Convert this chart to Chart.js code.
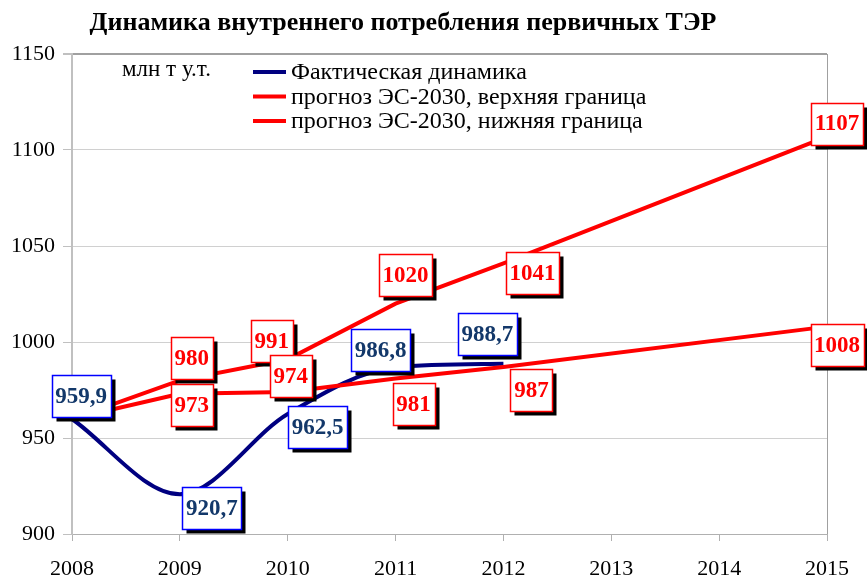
<!DOCTYPE html>
<html>
<head>
<meta charset="utf-8">
<script src="https://cdn.jsdelivr.net/npm/chart.js@4"></script>
<style>
  body { margin: 0; background: #fff; }
  #wrap { width: 867px; height: 579px; }
</style>
</head>
<body>
<div id="wrap"><canvas id="grafico"></canvas></div>
<script>
const titulo = 'Динамика внутреннего потребления первичных ТЭР';
const unidades = 'млн т у.т.';
const anos = ['2008', '2009', '2010', '2011', '2012', '2013', '2014', '2015'];
const fakticheskaya = [959.9, 920.7, 962.5, 986.8, 988.7, null, null, null];
const verkhnyaya = [960, 980, 991, 1020, 1041, null, null, 1107];
const nizhnyaya = [960, 973, 974, 981, 987, null, null, 1008];
const nombres = ['Фактическая динамика', 'прогноз ЭС-2030, верхняя граница', 'прогноз ЭС-2030, нижняя граница'];
const ticksY = [900, 950, 1000, 1050, 1100, 1150];

// desplazamiento de cada etiqueta respecto a su punto (null = sin etiqueta)
const offsetsAzul = [[9, -23], [32, 14], [30, 13], [-15, -17], [-16, -30], null, null, null];
const offsetsSup = [null, [12, -22], [-16, -18], [10, -29], [29, 10], null, null, [10, -13]];
const offsetsInf = [null, [12, 11], [3, -16], [18, 26], [28, 23], null, null, [10, 18]];

const serif = '"Liberation Serif", "Times New Roman", serif';

function formato(v) {
    return Number.isInteger(v) ? String(v) : v.toFixed(1).replace('.', ',');
}

const etiquetasPlugin = {
    id: 'etiquetas',
    afterDatasetsDraw(chart) {
        const ctx = chart.ctx;
        ctx.save();
        ctx.font = 'bold 23px ' + serif;
        ctx.textAlign = 'center';
        ctx.textBaseline = 'middle';
        chart.data.datasets.forEach((ds, i) => {
            const meta = chart.getDatasetMeta(i);
            ds.offsets.forEach((off, j) => {
                if (!off || ds.data[j] == null) return;
                const p = meta.data[j];
                const txt = formato(ds.data[j]);
                const w = Math.round(ctx.measureText(txt).width) + 7;
                const h = 42;
                const cx = p.x + off[0], cy = p.y + off[1];
                const x = Math.round(cx - w / 2) + 0.5, y = Math.round(cy - h / 2) + 0.5;
                ctx.fillStyle = '#000';
                ctx.fillRect(x + 4, y + 4, w, h);
                ctx.fillStyle = '#fff';
                ctx.fillRect(x, y, w, h);
                ctx.strokeStyle = ds.cajaColor;
                ctx.lineWidth = 1.5;
                ctx.strokeRect(x, y, w, h);
                ctx.fillStyle = ds.textoColor;
                ctx.fillText(txt, cx, cy + 1);
            });
        });
        ctx.restore();
    }
};

const textosPlugin = {
    id: 'textos',
    afterDraw(chart) {
        const ctx = chart.ctx;
        const area = chart.chartArea;
        ctx.save();
        ctx.fillStyle = '#000';
        ctx.textBaseline = 'middle';
        ctx.textAlign = 'center';
        ctx.font = 'bold 26px ' + serif;
        ctx.fillText(titulo, 403, 23);
        ctx.textAlign = 'left';
        ctx.font = '23px ' + serif;
        ctx.fillText(unidades, area.left + 50, 70);
        ctx.font = '24px ' + serif;
        chart.data.datasets.forEach((ds, i) => {
            const y = 72 + i * 24.5;
            ctx.strokeStyle = ds.borderColor;
            ctx.lineWidth = 4;
            ctx.beginPath();
            ctx.moveTo(253, y);
            ctx.lineTo(286, y);
            ctx.stroke();
            ctx.fillText(ds.label, 291, y + 1);
        });
        ctx.restore();
    }
};

new Chart(document.getElementById('grafico'), {
    type: 'line',
    data: {
        labels: anos,
        datasets: [
            {
                label: nombres[0], data: fakticheskaya, offsets: offsetsAzul,
                borderColor: '#000080', borderWidth: 4, pointRadius: 0,
                cubicInterpolationMode: 'monotone', spanGaps: false,
                cajaColor: '#0000ff', textoColor: '#13386a', order: 2
            },
            {
                label: nombres[1], data: verkhnyaya, offsets: offsetsSup,
                borderColor: '#ff0000', borderWidth: 4, pointRadius: 0,
                tension: 0, spanGaps: true,
                cajaColor: '#ff0000', textoColor: '#ff0000', order: 1
            },
            {
                label: nombres[2], data: nizhnyaya, offsets: offsetsInf,
                borderColor: '#ff0000', borderWidth: 4, pointRadius: 0,
                tension: 0, spanGaps: true,
                cajaColor: '#ff0000', textoColor: '#ff0000', order: 1
            }
        ]
    },
    options: {
        responsive: true,
        maintainAspectRatio: false,
        animation: false,
        layout: { padding: { top: 54, right: 40, bottom: 0, left: 0 } },
        plugins: {
            legend: { display: false },
            title: { display: false },
            tooltip: { enabled: false }
        },
        scales: {
            x: {
                offset: false,
                grid: {
                    drawOnChartArea: true,
                    color: c => c.index === anos.length - 1 ? '#a0a0a0' : 'rgba(0,0,0,0)',
                    tickColor: '#b0b0b0',
                    tickLength: 7
                },
                border: { color: '#b0b0b0' },
                ticks: {
                    color: '#000', font: { family: serif, size: 22 },
                    padding: 15, maxRotation: 0, autoSkip: false
                },
                afterFit: s => { s.height = 45; }
            },
            y: {
                min: 900, max: 1150,
                afterBuildTicks: s => { s.ticks = ticksY.map(v => ({ value: v })); },
                grid: {
                    color: c => c.tick && c.tick.value === 1150 ? '#a0a0a0' : '#d0d0d0',
                    lineWidth: c => c.tick && c.tick.value === 1150 ? 2 : 1,
                    tickColor: '#c0c0c0',
                    tickLength: 9
                },
                border: { color: '#c0c0c0', width: 2 },
                ticks: {
                    color: '#000', font: { family: serif, size: 22 }, padding: 8,
                    callback: v => String(v)
                },
                afterFit: s => { s.width = 72; }
            }
        }
    },
    plugins: [etiquetasPlugin, textosPlugin]
});
</script>
</body>
</html>
